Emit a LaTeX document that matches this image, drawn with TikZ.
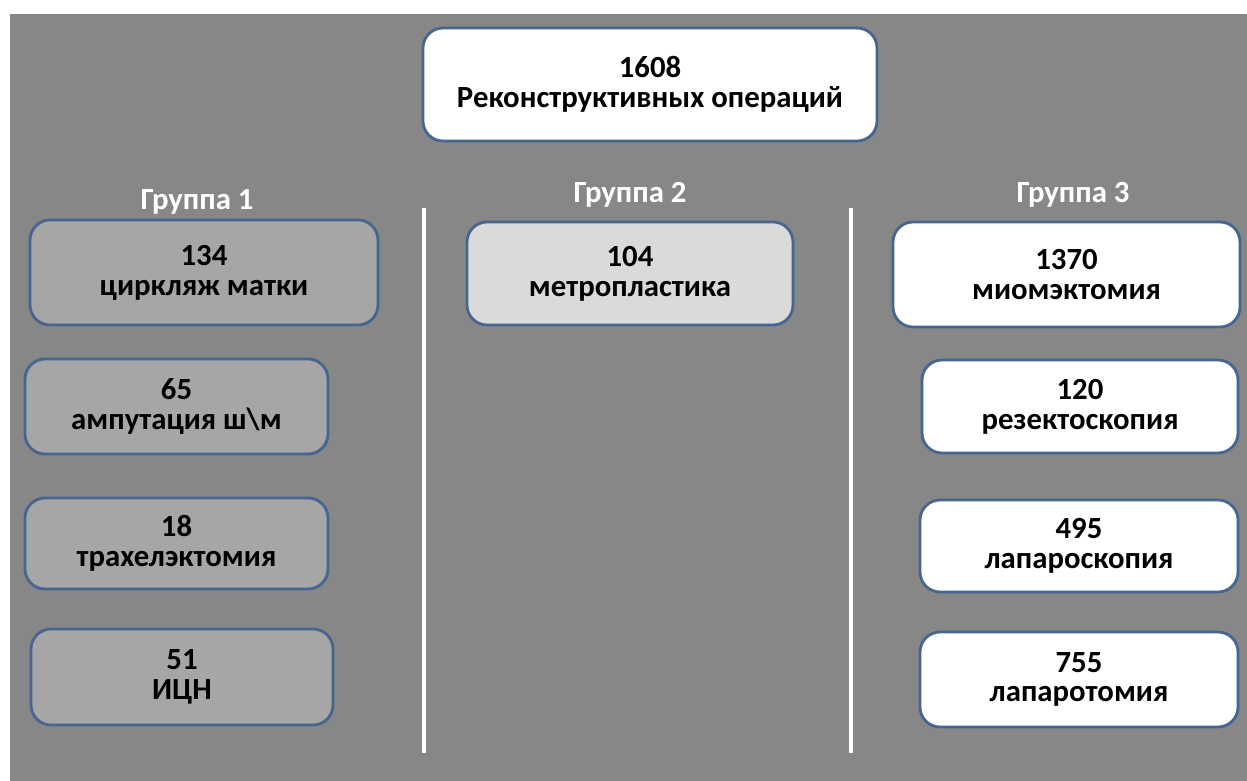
\documentclass[tikz,border=0pt]{standalone}
\usepackage{fontspec}
\setmainfont{Carlito}
\usepackage{xcolor}
\definecolor{bggray}{HTML}{878787}
\definecolor{boxblue}{HTML}{46658F}
\definecolor{boxgray}{HTML}{A6A6A6}
\definecolor{boxlight}{HTML}{DADADA}

\begin{document}
\begin{tikzpicture}[
    opbox/.style={rectangle, rounded corners=0.4cm, draw=boxblue, line width=1.6pt, inner sep=0pt, align=center, font=\bfseries\fontsize{17.5}{17}\selectfont},
    grouplabel/.style={text=white, font=\bfseries\fontsize{17.5}{17}\selectfont},
    divider/.style={white, line width=1.8pt}]
        % Background
        \fill[white] (0,0) rectangle (24.94,-15.62);
        \fill[bggray] (0.2,-0.28) rectangle (24.94,-15.62);
        % Total
        \node[opbox, fill=white, minimum width=9.08cm, minimum height=2.26cm] (total) at (13.0,-1.69) {1608\\Реконструктивных операций};
        % Group labels
        \node[grouplabel] (label1) at (3.94,-4.04) {Группа 1};
        \node[grouplabel] (label2) at (12.6,-3.90) {Группа 2};
        \node[grouplabel] (label3) at (21.46,-3.90) {Группа 3};
        % Group 1
        \node[opbox, fill=boxgray, minimum width=6.96cm, minimum height=2.10cm] (cerclage) at (4.08,-5.45) {134\\циркляж матки};
        \node[opbox, fill=boxgray, minimum width=6.06cm, minimum height=1.90cm] (amputation) at (3.53,-8.13) {65\\ампутация ш\textbackslash м};
        \node[opbox, fill=boxgray, minimum width=6.06cm, minimum height=1.82cm] (trachelectomy) at (3.53,-10.87) {18\\трахелэктомия};
        \node[opbox, fill=boxgray, minimum width=6.04cm, minimum height=1.92cm] (icn) at (3.64,-13.54) {51\\ИЦН};
        % Group 2
        \node[opbox, fill=boxlight, minimum width=6.52cm, minimum height=2.06cm] (metroplasty) at (12.6,-5.47) {104\\метропластика};
        % Group 3
        \node[opbox, fill=white, minimum width=6.94cm, minimum height=2.10cm] (myomectomy) at (21.33,-5.49) {1370\\миомэктомия};
        \node[opbox, fill=white, minimum width=6.32cm, minimum height=1.86cm] (resectoscopy) at (21.6,-8.13) {120\\резектоскопия};
        \node[opbox, fill=white, minimum width=6.36cm, minimum height=1.84cm] (laparoscopy) at (21.58,-10.92) {495\\лапароскопия};
        \node[opbox, fill=white, minimum width=6.36cm, minimum height=1.90cm] (laparotomy) at (21.58,-13.59) {755\\лапаротомия};
        % Dividers between groups
        \coordinate (div1top) at (8.48,-4.16);
        \coordinate (div1bot) at (8.48,-15.06);
        \coordinate (div2top) at (17.02,-4.16);
        \coordinate (div2bot) at (17.02,-15.06);
        \draw[divider] (div1top) -- (div1bot);
        \draw[divider] (div2top) -- (div2bot);
    \end{tikzpicture}
\end{document}
